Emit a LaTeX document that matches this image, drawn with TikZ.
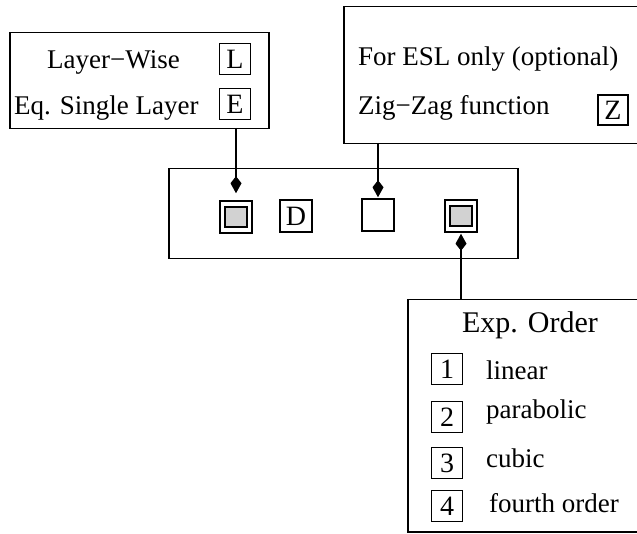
\documentclass[tikz,border=0pt]{standalone}
\usepackage{fontspec}
\setmainfont{Liberation Serif}
\usetikzlibrary{arrows.meta}
\begin{document}
\begin{tikzpicture}[x=1pt,y=-1pt,
  frame/.style={draw, line width=1.5pt, inner sep=0pt, anchor=north west},
  lbl/.style={font=\fontsize{27}{29}\selectfont, inner sep=0pt, anchor=base west},
  keybox/.style={draw, line width=1.2pt, minimum width=31pt, minimum height=31pt, inner sep=0pt, font=\fontsize{28}{30}\selectfont},
  sq/.style={draw, line width=1.5pt, minimum width=32pt, minimum height=32pt, inner sep=0pt},
  insq/.style={draw, line width=2pt, fill=gray!35, minimum width=22pt, minimum height=20pt, inner sep=0pt},
  conn/.style={line width=1.3pt, -{Kite[length=17pt,width=11pt,inset=7pt]}}
]
\useasboundingbox (0,0) rectangle (637,534);
\clip (0,0) rectangle (637,534);
\fill[white] (0,0) rectangle (637,534);
% left box
\node[frame, minimum width=259pt, minimum height=96pt] (lbox) at (9,32) {};
\node[lbl] (lw) at (47,69) {Layer\textminus Wise};
\node[keybox] (kL) at (235,59) {L};
\node[lbl] (esl) at (14,115) {Eq. Single Layer};
\node[keybox] (kE) at (235,104) {E};
% top right box
\node[frame, minimum width=310pt, minimum height=137pt] (rbox) at (343,6) {};
\node[lbl] (fe) at (358,66) {For ESL only (optional)};
\node[lbl] (zz) at (358,115) {Zig\textminus Zag function};
\node[keybox, minimum width=30pt, minimum height=30pt] (kZ) at (613,110) {Z};
% middle box
\node[frame, minimum width=349pt, minimum height=90pt] (mbox) at (168,168) {};
\node[sq] (s1) at (236,217) {};
\node[insq] (i1) at (236,217) {};
\node[sq, font=\fontsize{28}{30}\selectfont] (s2) at (296,216) {D};
\node[sq] (s3) at (378,215) {};
\node[sq] (s4) at (461,216) {};
\node[insq] (i4) at (461,216) {};
% exp order box
\node[frame, minimum width=250pt, minimum height=232pt] (ebox) at (407,299) {};
\node[font=\fontsize{30}{32}\selectfont, inner sep=0pt, anchor=base] (eo) at (530,333) {Exp. Order};
\node[keybox] (n1) at (447,369) {1};
\node[lbl] (t1) at (486,380) {linear};
\node[keybox] (n2) at (447,417) {2};
\node[lbl] (t2) at (486,418) {parabolic};
\node[keybox] (n3) at (447,463) {3};
\node[lbl] (t3) at (486,467) {cubic};
\node[keybox] (n4) at (447,506) {4};
\node[lbl] (t4) at (489,512) {fourth order};
% connectors
\coordinate (a1) at (236,128);
\coordinate (a2) at (378,143);
\coordinate (a3) at (461,299);
\draw[conn, shorten >=7pt] (a1) -- (s1.north);
\draw[conn, shorten >=1pt] (a2) -- (s3.north);
\draw[conn, shorten >=1pt] (a3) -- (s4.south);
\end{tikzpicture}
\end{document}
